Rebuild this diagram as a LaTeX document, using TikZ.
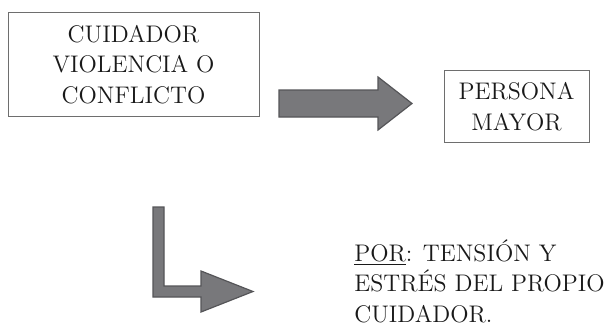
\documentclass[tikz,border=0pt]{standalone}
\definecolor{textgray}{RGB}{25,25,25}
\definecolor{boxgray}{RGB}{110,110,110}
\definecolor{arrowfill}{RGB}{120,120,123}
\definecolor{arrowline}{RGB}{85,85,88}
\begin{document}
\begin{tikzpicture}[x=0.5pt, y=-0.5pt,
            box/.style={rectangle, draw=boxgray, line width=0.5pt, inner sep=0pt, align=center, text=textgray},
            label text/.style={inner sep=0pt, align=left, text=textgray},
            block arrow/.style={fill=arrowfill, draw=arrowline, line width=0.6pt, line join=miter},
            every node/.style={font=\fontsize{12}{15.3}\selectfont}
    ]
        \useasboundingbox (0,0) rectangle (608,326);

        % Boxes
        \node[box, minimum width=125.5pt, minimum height=51.5pt] (cuidador) at (133.5,64.5) {CUIDADOR\\VIOLENCIA O\\CONFLICTO};
        \node[box, minimum width=72.5pt, minimum height=35.5pt] (persona) at (516.5,106.5) {PERSONA\\MAYOR};

        % Cause text
        \node[label text, anchor=north west] (causa) at (354,239) {\underline{POR}: TENSIÓN Y\\ESTRÉS DEL PROPIO\\CUIDADOR.};

        % Block arrows
        \draw[block arrow] (279,90) -- (378,90) -- (378,77) -- (412,103.5) -- (378,130) -- (378,117) -- (279,117) -- cycle;
        \draw[block arrow] (153,207) -- (164,207) -- (164,286) -- (201,286) -- (201,271) -- (253,291.5) -- (201,312) -- (201,297) -- (153,297) -- cycle;

    \end{tikzpicture}
\end{document}
